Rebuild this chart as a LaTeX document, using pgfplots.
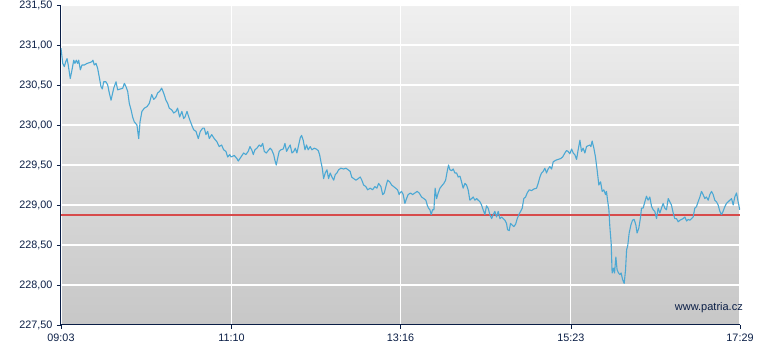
\documentclass[border=0pt]{standalone}
\usepackage{pgfplots}
\pgfplotsset{compat=1.18}
\usepackage{fontspec}
\setmainfont{Liberation Sans}
\definecolor{navy}{RGB}{10,30,70}
\definecolor{lineblue}{RGB}{75,168,212}
\definecolor{refred}{RGB}{215,75,75}
\pgfplotstableread{
x y
0 228.87
253 228.87
506 228.87
}\reftable
\begin{document}
\begin{tikzpicture}
\useasboundingbox (-61pt,-25pt) rectangle (719pt,325pt);
\begin{axis}[
  at={(0,0)}, anchor=south west,
  scale only axis, width=679pt, height=320pt,
  xmin=0, xmax=506, ymin=227.5, ymax=231.5,
  axis lines*=left,
  axis line style={navy, line width=1pt},
  xtick={0,127,253,380,506},
  xticklabels={09:03,11:10,13:16,15:23,17:29},
  ytick={227.5,228,228.5,229,229.5,230,230.5,231,231.5},
  yticklabels={{227,50},{228,00},{228,50},{229,00},{229,50},{230,00},{230,50},{231,00},{231,50}},
  tick align=outside,
  major tick length=4pt,
  tick style={navy, line width=0.8pt},
  grid=major,
  major grid style={white, line width=1.1pt},
  ticklabel style={font=\fontsize{10.8}{12}\selectfont, text=navy},
  xticklabel style={yshift=-1pt},
  yticklabel style={xshift=-1pt},
  /pgf/number format/assume math mode=true,
  axis background/.style={shade, top color=black!6, bottom color=black!22},
  clip=true,
]
\addplot[color=refred, line width=1.8pt, mark=none, forget plot] table[x=x, y=y] {\reftable};
\addplot[color=lineblue, line width=1.1pt, line join=round] coordinates {
(0,230.96) (1.3,230.77) (2.5,230.73) (3.5,230.79) (4.5,230.83) (5.4,230.75) (6.9,230.58) (8.2,230.69) (9.5,230.81) (10.4,230.77) (11.4,230.81) (12.4,230.77) (13.2,230.81) (14.4,230.69) (15.6,230.75) (17.4,230.75) (19.4,230.77) (21.4,230.78) (22.9,230.79) (23.8,230.81) (24.8,230.75) (26.1,230.77) (27.3,230.71) (28.5,230.60) (29.8,230.48) (30.8,230.45) (31.8,230.54) (33.5,230.54) (34.8,230.50) (36.0,230.40) (37.3,230.31) (38.5,230.40) (39.3,230.46) (41.0,230.54) (42.2,230.44) (44.2,230.45) (46.0,230.46) (47.2,230.52) (48.4,230.48) (49.7,230.42) (50.9,230.27) (52.2,230.19) (53.4,230.10) (54.6,230.04) (56.6,230.00) (57.9,229.83) (58.9,230.04) (60.3,230.17) (62.1,230.21) (64.1,230.23) (65.8,230.27) (67.6,230.38) (69.1,230.32) (70.8,230.35) (72.0,230.40) (73.5,230.42) (75.0,230.46) (76.5,230.40) (78.2,230.31) (79.5,230.27) (80.7,230.21) (82.5,230.19) (84.0,230.15) (85.7,230.17) (86.9,230.21) (88.4,230.10) (90.1,230.17) (91.4,230.08) (92.4,230.10) (93.9,230.17) (95.6,230.08) (97.4,230.00) (98.9,229.94) (100.6,229.92) (102.3,229.83) (103.8,229.92) (105.6,229.96) (106.8,229.96) (108.0,229.88) (109.3,229.92) (110.5,229.83) (112.3,229.88) (114.2,229.83) (116.2,229.79) (117.9,229.73) (119.7,229.75) (121.2,229.69) (122.9,229.67) (124.2,229.60) (125.7,229.63)
(126.7,229.60) (129.1,229.62) (131.1,229.58) (132.1,229.55) (134.1,229.60) (136.1,229.65) (137.8,229.63) (139.5,229.67) (140.8,229.73) (142.1,229.69) (143.3,229.63) (144.5,229.69) (146.0,229.71) (147.7,229.75) (149.0,229.73) (150.3,229.77) (151.5,229.67) (153.0,229.65) (154.4,229.68) (155.9,229.71) (157.0,229.69) (158.5,229.63) (159.4,229.56) (160.4,229.50) (161.4,229.58) (162.6,229.67) (163.9,229.69) (165.6,229.70) (166.9,229.77) (168.1,229.67) (169.3,229.71) (170.8,229.75) (172.1,229.65) (173.4,229.67) (174.6,229.71) (175.8,229.65) (177.1,229.75) (178.3,229.84) (179.3,229.87) (180.5,229.81) (181.8,229.69) (183.0,229.75) (184.2,229.69) (185.7,229.73) (187.0,229.69) (188.7,229.71) (190.2,229.70) (191.7,229.68) (192.7,229.63) (193.7,229.54) (194.7,229.46) (195.7,229.33) (196.9,229.40) (198.2,229.44) (199.4,229.33) (200.6,229.40) (201.9,229.35) (203.2,229.31) (204.4,229.38) (205.6,229.40) (206.9,229.44) (208.6,229.46) (210.6,229.45) (212.3,229.46) (214.0,229.44) (215.5,229.42) (216.6,229.35) (218.1,229.33) (219.8,229.31) (221.5,229.33) (223.0,229.35) (224.2,229.31) (225.5,229.25) (227.2,229.23) (228.5,229.19) (230.4,229.21) (232.2,229.19) (233.9,229.23) (235.4,229.21) (236.7,229.27) (238.4,229.23) (239.7,229.13) (240.9,229.15) (242.1,229.23) (243.4,229.31) (244.9,229.29) (246.4,229.25) (247.9,229.23) (249.4,229.21) (250.8,229.19) (252.0,229.13)
(252.6,229.15) (253.8,229.17) (255.0,229.13) (256.3,229.02) (257.5,229.08) (258.7,229.13) (260.5,229.15) (262.0,229.13) (263.7,229.15) (265.4,229.17) (266.9,229.15) (268.7,229.10) (270.4,229.08) (271.9,229.06) (272.9,229.00) (273.9,228.96) (274.9,228.94) (275.9,228.88) (276.9,228.94) (277.9,228.94) (278.8,229.21) (279.9,229.08) (281.1,229.15) (282.4,229.21) (283.8,229.24) (285.3,229.27) (286.6,229.31) (287.8,229.42) (288.8,229.50) (289.8,229.44) (291.1,229.43) (292.3,229.45) (293.5,229.40) (294.8,229.40) (296.0,229.35) (297.3,229.36) (298.5,229.29) (299.7,229.21) (301.0,229.27) (302.2,229.25) (303.4,229.19) (304.7,229.06) (306.0,229.08) (307.2,229.10) (308.4,229.06) (309.7,229.08) (310.9,229.06) (312.2,229.04) (313.4,229.00) (314.6,228.94) (315.9,228.88) (317.1,228.99) (318.3,228.96) (319.6,228.88) (320.9,228.83) (322.1,228.88) (323.3,228.92) (324.6,228.85) (325.8,228.92) (327.1,228.83) (328.3,228.85) (329.5,228.83) (330.8,228.81) (332.0,228.77) (332.8,228.69) (334.0,228.68) (335.0,228.77) (336.2,228.75) (337.5,228.73) (338.8,228.76) (340.0,228.83) (341.2,228.88) (342.5,228.92) (343.7,228.96) (344.9,229.08) (346.2,229.10) (347.4,229.15) (348.9,229.19) (350.7,229.18) (352.4,229.20) (354.4,229.21) (355.6,229.27) (356.9,229.35) (358.1,229.40) (359.3,229.42) (360.6,229.46) (361.8,229.40) (363.0,229.45) (364.3,229.48) (365.6,229.45) (366.8,229.54) (368.8,229.56) (370.5,229.57) (372.3,229.58) (373.8,229.60) (375.5,229.65) (376.7,229.68) (377.9,229.67) (379.2,229.64)
(380.5,229.70) (381.7,229.65) (382.9,229.63) (384.2,229.57) (385.4,229.69) (386.7,229.81) (387.9,229.67) (389.1,229.71) (390.4,229.65) (391.6,229.73) (392.8,229.74) (394.1,229.75) (394.9,229.73) (395.8,229.80) (397.1,229.71) (398.3,229.60) (399.5,229.44) (400.8,229.25) (402.1,229.29) (403.3,229.17) (404.5,229.19) (405.8,229.13) (406.5,229.17) (407.3,229.06) (408.3,228.94) (409.0,228.73) (410.0,228.52) (410.7,228.15) (411.8,228.21) (412.5,228.15) (413.5,228.35) (414.4,228.19) (415.5,228.15) (416.5,228.13) (417.4,228.15) (418.5,228.07) (419.7,228.02) (420.7,228.19) (421.5,228.44) (422.4,228.50) (423.4,228.65) (424.7,228.75) (425.9,228.81) (427.1,228.82) (428.4,228.75) (429.3,228.65) (430.6,228.71) (431.9,228.85) (432.6,228.96) (433.8,228.96) (435.1,229.04) (436.3,229.11) (437.5,229.06) (438.8,229.10) (440.1,228.98) (441.3,228.94) (442.5,228.92) (443.8,228.83) (445.0,228.96) (446.3,228.90) (447.5,228.96) (448.7,229.02) (450.0,228.96) (451.2,228.94) (452.5,229.08) (453.7,229.04) (454.9,229.00) (456.2,228.90) (457.4,228.83) (458.7,228.83) (459.9,228.79) (461.2,228.81) (462.4,228.82) (463.6,228.83) (464.9,228.85) (466.2,228.80) (467.4,228.82) (468.6,228.81) (469.9,228.83) (471.1,228.85) (472.3,228.96) (473.6,228.98) (474.8,229.04) (476.1,229.10) (477.3,229.17) (478.5,229.13) (479.8,229.08) (481.0,229.10) (482.3,229.06) (483.5,229.13) (484.8,229.17) (486.0,229.13) (487.2,229.06) (488.5,229.04) (489.7,229.00) (491.0,228.92) (492.2,228.88) (493.4,228.92) (494.7,228.98) (495.9,229.02) (497.2,229.04) (498.4,229.06) (499.7,229.08) (500.9,229.00) (502.1,229.10) (503.4,229.15) (504.6,229.04) (505.8,228.94)
};
\end{axis}
\node[anchor=base east, inner sep=0pt, text=navy, font=\fontsize{11}{13}\selectfont] at (682pt,14pt) {www.patria.cz};
\end{tikzpicture}
\end{document}
